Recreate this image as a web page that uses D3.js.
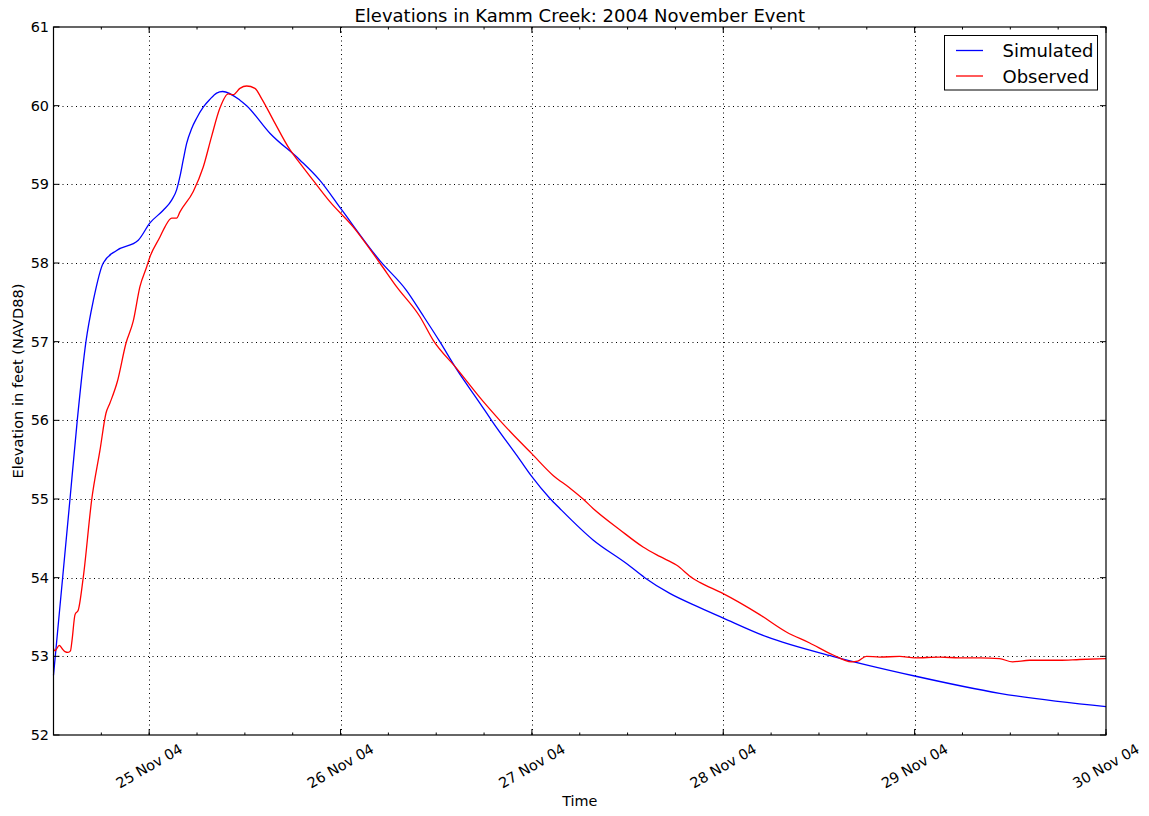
<!DOCTYPE html>
<html>
<head>
<meta charset="utf-8">
<script src="https://cdn.jsdelivr.net/npm/d3@7"></script>
<style>
  html, body { margin: 0; padding: 0; background: #fff; }
  svg { display: block; font-family: "DejaVu Sans", sans-serif; }
</style>
</head>
<body>
<svg id="chart" width="1149" height="816"></svg>
<script>
// Hours elapsed since 2004-11-24 00:00 (UTC) and water surface elevation (ft, NAVD88)
const simulatedHours = [12.0, 14.07, 14.98, 16.07, 17.01, 18.24, 19.92, 22.63, 24.10, 25.76,
  26.82, 27.44, 27.86, 28.27, 28.70, 29.33, 29.95, 30.78, 31.62, 32.46, 33.21, 35.38, 36.22,
  39.14, 42.90, 45.41, 48.04, 52.93, 56.28, 58.36, 60.45, 62.55, 65.47, 66.93, 70.48, 71.95,
  74.24, 75.50, 79.67, 83.86, 86.15, 89.29, 93.05, 95.93, 101.41, 109.72, 120.0, 130.65, 144.0];
const simulatedElev = [52.76, 55.0, 56.0, 57.0, 57.53, 58.0, 58.16, 58.29, 58.51, 58.67,
  58.80, 58.93, 59.10, 59.31, 59.52, 59.71, 59.84, 59.98, 60.08, 60.16, 60.18, 60.07, 60.0,
  59.65, 59.31, 59.05, 58.69, 58.03, 57.65, 57.33, 57.00, 56.65, 56.22, 56.0, 55.50, 55.29,
  55.01, 54.88, 54.48, 54.18, 54.0, 53.80, 53.62, 53.49, 53.25, 53.0, 52.75, 52.53, 52.36];

const observedHours = [12.0, 12.19, 12.73, 13.07, 13.44, 13.82, 14.13, 14.32, 14.70, 15.11,
  15.74, 16.79, 17.83, 18.58, 19.08, 20.00, 21.09, 22.00, 22.84, 23.68, 24.10, 25.35, 25.98,
  26.82, 27.44, 27.86, 29.53, 30.78, 31.83, 32.87, 33.91, 34.54, 35.38, 36.22, 37.26, 38.10,
  39.55, 41.65, 42.90, 44.57, 46.66, 49.58, 52.93, 55.02, 57.94, 59.61, 62.55, 65.88, 67.97,
  70.48, 71.95, 74.66, 76.75, 78.42, 79.67, 83.02, 85.94, 88.03, 90.12, 92.21, 93.05, 95.93,
  100.57, 103.91, 106.84, 109.72, 112.07, 112.86, 113.94, 115.61, 118.12, 120.0, 123.13,
  125.64, 128.15, 130.65, 132.28, 134.41, 138.17, 140.68, 144.0];
const observedElev = [53.10, 53.07, 53.14, 53.10, 53.06, 53.05, 53.07, 53.20, 53.53, 53.59,
  54.01, 54.99, 55.62, 56.09, 56.22, 56.49, 56.98, 57.26, 57.70, 57.95, 58.08, 58.33, 58.46,
  58.57, 58.57, 58.65, 58.91, 59.22, 59.61, 59.97, 60.15, 60.14, 60.22, 60.25, 60.22, 60.09,
  59.82, 59.44, 59.27, 59.05, 58.78, 58.46, 58.0, 57.70, 57.32, 57.02, 56.66, 56.24, 56.0,
  55.73, 55.58, 55.30, 55.14, 55.0, 54.88, 54.61, 54.39, 54.27, 54.16, 53.99, 53.94, 53.80,
  53.53, 53.31, 53.17, 53.02, 52.93, 52.94, 53.00, 52.99, 53.0, 52.98, 52.99, 52.98, 52.98,
  52.97, 52.93, 52.95, 52.95, 52.96, 52.97];

const yTicks = [52, 53, 54, 55, 56, 57, 58, 59, 60, 61];
const seriesNames = ["Simulated", "Observed"];
const seriesColors = ["#0000ff", "#ff0000"];

const origin = Date.UTC(2004, 10, 24, 0, 0);
const toDate = h => new Date(origin + h * 3600 * 1000);

const simulated = simulatedHours.map((h, i) => ({ t: toDate(h), v: simulatedElev[i] }));
const observed = observedHours.map((h, i) => ({ t: toDate(h), v: observedElev[i] }));

const plotLeft = 53.5, plotRight = 1106, plotTop = 27, plotBottom = 735;

const svg = d3.select("#chart");

const x = d3.scaleUtc()
  .domain([toDate(12), toDate(144)])
  .range([plotLeft, plotRight]);
const y = d3.scaleLinear()
  .domain([52, 61])
  .range([plotBottom, plotTop]);

// Daily major ticks (25..30 Nov) and 6-hourly minor ticks
const dayTicks = d3.utcDay.range(toDate(24), toDate(144.01));
const minorTicks = d3.utcHour.every(6).range(toDate(12), toDate(144.01));
const fmt = d3.utcFormat("%d %b %y");

// Dotted grid
const grid = svg.append("g").attr("stroke", "#000").attr("stroke-width", 1)
  .attr("stroke-dasharray", "1,3.5");
grid.selectAll("line.gx").data(dayTicks.slice(0, -1)).join("line")
  .attr("x1", d => Math.round(x(d)) + 0.5).attr("x2", d => Math.round(x(d)) + 0.5)
  .attr("y1", plotTop).attr("y2", plotBottom);
grid.selectAll("line.gy").data(yTicks.slice(1, -1)).join("line")
  .attr("x1", plotLeft).attr("x2", plotRight)
  .attr("y1", d => Math.round(y(d)) + 0.5).attr("y2", d => Math.round(y(d)) + 0.5);

// Series
const line = d3.line().x(d => x(d.t)).y(d => y(d.v)).curve(d3.curveMonotoneX);
const plot = svg.append("g");
plot.append("path").datum(simulated).attr("d", line)
  .attr("fill", "none").attr("stroke", seriesColors[0]).attr("stroke-width", 1.3);
plot.append("path").datum(observed).attr("d", line)
  .attr("fill", "none").attr("stroke", seriesColors[1]).attr("stroke-width", 1.3);

// Frame
svg.append("rect").attr("x", plotLeft).attr("y", plotTop)
  .attr("width", plotRight - plotLeft).attr("height", plotBottom - plotTop)
  .attr("fill", "none").attr("stroke", "#000").attr("stroke-width", 1.2);

// Inward ticks on all four sides
const ticks = svg.append("g").attr("stroke", "#000").attr("stroke-width", 1);
ticks.selectAll("line.mb").data(minorTicks).join("line")
  .attr("x1", d => x(d)).attr("x2", d => x(d)).attr("y1", plotBottom).attr("y2", plotBottom - 2.5);
ticks.selectAll("line.mt").data(minorTicks).join("line")
  .attr("x1", d => x(d)).attr("x2", d => x(d)).attr("y1", plotTop).attr("y2", plotTop + 2.5);
ticks.selectAll("line.Mb").data(dayTicks).join("line")
  .attr("x1", d => x(d)).attr("x2", d => x(d)).attr("y1", plotBottom).attr("y2", plotBottom - 6);
ticks.selectAll("line.Mt").data(dayTicks).join("line")
  .attr("x1", d => x(d)).attr("x2", d => x(d)).attr("y1", plotTop).attr("y2", plotTop + 6);
ticks.selectAll("line.yl").data(yTicks).join("line")
  .attr("x1", plotLeft).attr("x2", plotLeft + 6).attr("y1", d => y(d)).attr("y2", d => y(d));
ticks.selectAll("line.yr").data(yTicks).join("line")
  .attr("x1", plotRight).attr("x2", plotRight - 6).attr("y1", d => y(d)).attr("y2", d => y(d));

// Tick labels
svg.append("g").selectAll("text").data(yTicks).join("text")
  .attr("x", plotLeft - 4.5).attr("y", d => y(d))
  .attr("text-anchor", "end").attr("dominant-baseline", "central")
  .attr("font-size", 14.4).attr("fill", "#000")
  .text(d => d);

svg.append("g").selectAll("text").data(dayTicks).join("text")
  .attr("transform", d => `translate(${x(d)},766) rotate(-30)`)
  .attr("text-anchor", "middle").attr("dominant-baseline", "central")
  .attr("font-size", 14.4).attr("fill", "#000")
  .text(d => fmt(d));

// Titles
svg.append("text").attr("x", (plotLeft + plotRight) / 2).attr("y", 22)
  .attr("text-anchor", "middle").attr("font-size", 18)
  .text("Elevations in Kamm Creek: 2004 November Event");
svg.append("text").attr("x", (plotLeft + plotRight) / 2).attr("y", 806)
  .attr("text-anchor", "middle").attr("font-size", 14.4).text("Time");
svg.append("text").attr("transform", `translate(23,${(plotTop + plotBottom) / 2}) rotate(-90)`)
  .attr("text-anchor", "middle").attr("font-size", 14.6)
  .text("Elevation in feet (NAVD88)");

// Legend
const legend = svg.append("g");
legend.append("rect").attr("x", 944.5).attr("y", 35.5).attr("width", 153).attr("height", 54.5)
  .attr("fill", "#fff").attr("stroke", "#000").attr("stroke-width", 1);
seriesNames.forEach((name, i) => {
  const ly = 50.5 + i * 25.5;
  legend.append("line").attr("x1", 956).attr("x2", 983).attr("y1", ly).attr("y2", ly)
    .attr("stroke", seriesColors[i]).attr("stroke-width", 1.3);
  legend.append("text").attr("x", 1002.5).attr("y", ly + 6.8)
    .attr("font-size", 18).text(name);
});
</script>
</body>
</html>
